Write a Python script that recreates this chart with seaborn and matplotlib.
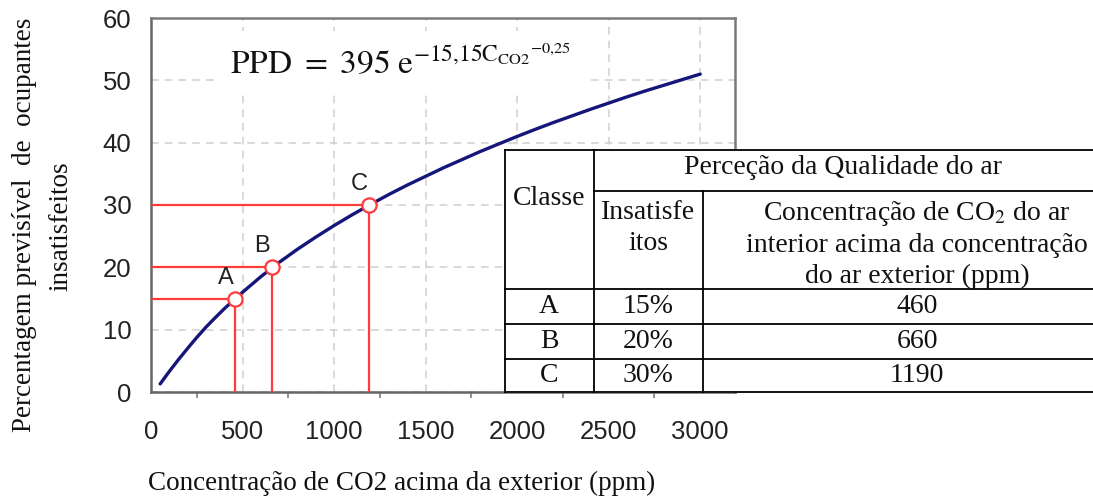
import numpy as np
import matplotlib
matplotlib.use("Agg")
import matplotlib.pyplot as plt
import seaborn as sns
import pandas as pd

# PPD curve: percentage of dissatisfied occupants vs CO2 above outdoor level
co2_ppm = [50, 100, 150, 200, 250, 300, 350, 400, 450, 500, 600, 700, 800, 900,
           1000, 1100, 1200, 1300, 1400, 1500, 1600, 1700, 1800, 1900, 2000,
           2100, 2200, 2300, 2400, 2500, 2600, 2700, 2800, 2900, 3000]
ppd_pct = [1.3, 3.3, 5.2, 7.0, 8.75, 10.4, 11.9, 13.35, 14.7, 16.0, 18.5, 20.8, 22.9, 24.85,
           26.7, 28.45, 30.1, 31.7, 33.2, 34.6, 36.0, 37.3, 38.6, 39.8, 41.0,
           42.15, 43.25, 44.3, 45.35, 46.35, 47.35, 48.3, 49.2, 50.1, 51.0]

# Air-quality classes
classes = ["A", "B", "C"]
class_ppd = [15, 20, 30]
class_co2 = [460, 660, 1190]

x_ticks = [0, 500, 1000, 1500, 2000, 2500, 3000]
y_ticks = [0, 10, 20, 30, 40, 50, 60]

sns.set_theme(style="white")
plt.rcParams["font.family"] = ["Liberation Sans", "DejaVu Sans"]
plt.rcParams["mathtext.fontset"] = "stix"

W, H = 1093, 497
fig = plt.figure(figsize=(W / 100, H / 100), dpi=100)
fig.patch.set_facecolor("white")

def fx(px):
    return px / W

def fy(py):
    return 1 - py / H

ax = fig.add_axes([fx(151), fy(392), fx(735) - fx(151), fy(18) - fy(392)])
ax.set_facecolor("white")

curve = pd.DataFrame({"co2": co2_ppm, "ppd": ppd_pct})
sns.lineplot(data=curve, x="co2", y="ppd", ax=ax, color="#16167a", linewidth=2.4, zorder=4)

red = "#ff3b3b"
for lab, p, c in zip(classes, class_ppd, class_co2):
    ax.plot([0, c], [p, p], color=red, lw=1.6, zorder=3, solid_capstyle="butt")
    ax.plot([c, c], [0, p], color=red, lw=1.6, zorder=3, solid_capstyle="butt")
    ax.annotate(lab, (c, p), xytext=(-7, 15), textcoords="offset points",
                ha="center", va="center", fontsize=17, color="#222222", zorder=6)
ax.scatter(class_co2, class_ppd, s=105, facecolor="white", edgecolor=red,
           linewidth=1.6, zorder=5)

ax.set_xlim(0, 3190)
ax.set_ylim(0, 60)
ax.set_xticks(x_ticks)
ax.set_xticks(np.arange(250, 3001, 500), minor=True)
ax.set_yticks(y_ticks)
ax.tick_params(axis="both", which="major", direction="out", length=7, width=1.3,
               color="#666666", labelsize=18.5, labelcolor="#222222", pad=4)
ax.tick_params(axis="x", which="minor", direction="out", length=4, width=1.3,
               color="#888888", bottom=True)
ax.tick_params(axis="x", which="major", pad=13)
ax.tick_params(axis="y", which="major", pad=7)
for s in ax.spines.values():
    s.set_visible(True)
    s.set_color("#7a7a7a")
    s.set_linewidth(1.8)
ax.spines["left"].set_color("#666666")
ax.spines["bottom"].set_color("#666666")
ax.grid(True, which="major", color="#cfcfcf", linestyle=(0, (5, 4)), linewidth=1.1)
ax.set_axisbelow(True)
ax.set_xlabel("")
ax.set_ylabel("")

ax.text(0.135, 0.88,
        r"$\mathrm{PPD}\ =\ 395\ \mathrm{e}^{-15{,}15\mathrm{C}_{\mathrm{CO2}}{}^{-0{,}25}}$",
        transform=ax.transAxes, fontsize=24, color="#111111", ha="left", va="center",
        zorder=6, bbox=dict(facecolor="white", edgecolor="none", pad=10))

serif = ["Liberation Serif", "DejaVu Serif"]
fig.text(fx(148), fy(490), "Concentração de CO2 acima da exterior (ppm)",
         family=serif, fontsize=19.5, ha="left", va="baseline", color="#111111")
fig.text(fx(25), fy(225), "Percentagem previsível  de  ocupantes",
         family=serif, fontsize=19.5, rotation=90, ha="center", va="center", color="#111111")
fig.text(fx(61), fy(226), "insatisfeitos",
         family=serif, fontsize=19.5, rotation=90, ha="center", va="center", color="#111111")

# Table of classes drawn in its own axes (pixel units within the table);
# its right edge runs past the canvas
T0x, T0y, T1x, T1y = 504, 149, 1131, 393
tab = fig.add_axes([fx(T0x), fy(T1y), fx(T1x) - fx(T0x), fy(T0y) - fy(T1y)], zorder=10)
tw, th = T1x - T0x, T1y - T0y
tab.set_xlim(0, tw)
tab.set_ylim(th, 0)
tab.set_facecolor("white")
for s in tab.spines.values():
    s.set_visible(False)
tab.set_xticks([])
tab.set_yticks([])

c1, c2 = 594 - T0x, 703 - T0x
r1 = 191 - T0y
row_lines = [289 - T0y, 324 - T0y, 359 - T0y]
lw = 1.3
kw = dict(color="black", lw=lw, solid_capstyle="projecting")
tab.plot([0, tw], [0.6, 0.6], **kw)
tab.plot([0, tw], [th - 0.6, th - 0.6], **kw)
tab.plot([0.6, 0.6], [0, th], **kw)
tab.plot([c1, c1], [0, th], **kw)
tab.plot([c2, c2], [r1, th], **kw)
tab.plot([c1, tw], [r1, r1], **kw)
for r in row_lines:
    tab.plot([0, tw], [r, r], **kw)

tfs = 20
tk = dict(family=serif, fontsize=tfs, ha="center", va="center", color="#111111")
col1_x = c1 / 2
col2_x = (c1 + c2) / 2
col3_x = 917 - T0x
tab.text(843 - T0x, 167 - T0y, "Perceção da Qualidade do ar", **tk)
tab.text(col1_x, 198 - T0y, "Classe", **tk)
tab.text(col2_x, 228 - T0y, "Insatisfe\nitos", linespacing=1.28, **tk)
tab.text(col3_x, 244 - T0y,
         "Concentração de CO$_2$ do ar\ninterior acima da concentração\ndo ar exterior (ppm)",
         linespacing=1.28, **tk)
row_mid = [(289 + 324) / 2 - T0y, (324 + 359) / 2 - T0y, (359 + 393) / 2 - T0y]
for lab, p, c, ym in zip(classes, class_ppd, class_co2, row_mid):
    tab.text(col1_x, ym, lab, **tk)
    tab.text(col2_x, ym, f"{p}%", **tk)
    tab.text(col3_x, ym, f"{c}", **tk)

fig.savefig("out.png", dpi=100, facecolor="white")
